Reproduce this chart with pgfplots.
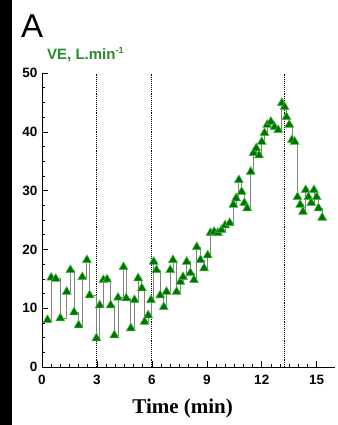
\documentclass[border=0pt]{standalone}
\usepackage{pgfplots}
\pgfplotsset{compat=1.18}
\usepackage{fontspec}
\setmainfont{Liberation Sans}
\newfontfamily\timesfont{Liberation Serif}
\definecolor{vegreen}{RGB}{40,140,40}
\definecolor{mkfill}{RGB}{0,115,0}
\definecolor{mkedge}{RGB}{70,190,70}
\definecolor{linegray}{RGB}{125,135,125}
\begin{document}
\begin{tikzpicture}
\useasboundingbox (0pt,0pt) rectangle (337pt,-425pt);
\fill[black] (0pt,0pt) rectangle (12pt,-425pt);
\node[anchor=north west, inner sep=0pt, font=\fontsize{33}{33}\selectfont] at (21pt,-15pt) {A};
\node[anchor=base west, inner sep=0pt, text=vegreen, font=\bfseries\fontsize{15}{15}\selectfont] at (47pt,-60pt) {VE, L.min\raisebox{0.45em}{\fontsize{9}{9}\selectfont -1}};
\begin{axis}[
  at={(42pt,-367pt)}, anchor=south west,
  scale only axis, width=293pt, height=294pt,
  xmin=0, xmax=16.0, ymin=0, ymax=50,
  axis lines=left, axis line style={-, line width=0.8pt},
  xtick={0,3,6,9,12,15}, ytick={0,10,20,30,40,50},
  minor x tick num=5, minor y tick num=3,
  tick align=inside,
  major tick length=6pt, minor tick length=3pt,
  tick style={black, line width=0.6pt},
  ticklabel style={font=\bfseries\fontsize{13.5}{14}\selectfont},
  xticklabel style={yshift=-5pt},
  yticklabel style={xshift=-1pt},
  /pgf/number format/assume math mode=true,
  xlabel={\timesfont\bfseries Time (min)},
  xlabel style={font=\fontsize{21}{22}\selectfont, at={(axis description cs:0.48,0)}, anchor=base, yshift=-46pt},
  clip=false,
]
\addplot[black, densely dotted, line width=0.9pt] coordinates {(3,0) (3,50)};
\addplot[black, densely dotted, line width=0.9pt] coordinates {(6,0) (6,50)};
\addplot[black, densely dotted, line width=0.9pt] coordinates {(13.25,0) (13.25,50)};
\addplot[const plot, color=linegray, line width=0.8pt, mark=triangle*, mark size=5.2pt,
  mark options={fill=mkfill, draw=mkedge, solid, line width=0.5pt}] table {
x y
0.30 8.0
0.50 15.2
0.75 15.0
1.00 8.3
1.35 12.8
1.55 16.5
1.75 9.3
2.00 7.1
2.20 15.3
2.45 18.2
2.60 12.2
2.97 4.9
3.15 10.5
3.35 14.8
3.55 14.9
3.75 10.5
3.95 5.4
4.15 11.8
4.45 17.0
4.60 11.7
4.85 6.6
5.05 11.4
5.25 15.1
5.45 13.4
5.60 7.7
5.80 8.8
5.95 11.4
6.10 17.9
6.25 16.5
6.45 12.2
6.65 10.2
6.80 12.8
7.00 16.5
7.15 18.2
7.35 12.8
7.55 14.5
7.70 15.3
7.90 17.9
8.10 16.0
8.30 14.8
8.45 20.4
8.65 18.2
8.85 16.8
9.05 19.0
9.20 22.8
9.40 23.0
9.60 22.8
9.80 23.3
10.00 24.1
10.25 24.5
10.45 27.6
10.60 28.7
10.75 31.8
10.90 29.8
11.05 27.9
11.20 27.0
11.40 33.2
11.55 36.4
11.70 37.2
11.85 36.0
12.00 38.3
12.15 39.8
12.30 41.2
12.50 41.7
12.70 40.8
12.90 40.3
13.10 44.9
13.25 44.2
13.35 42.5
13.50 41.2
13.65 38.6
13.80 38.3
13.95 28.9
14.10 27.6
14.25 26.4
14.40 30.1
14.55 28.9
14.70 27.9
14.85 30.1
15.00 28.9
15.10 27.0
15.30 25.4
};
\end{axis}
\end{tikzpicture}
\end{document}
